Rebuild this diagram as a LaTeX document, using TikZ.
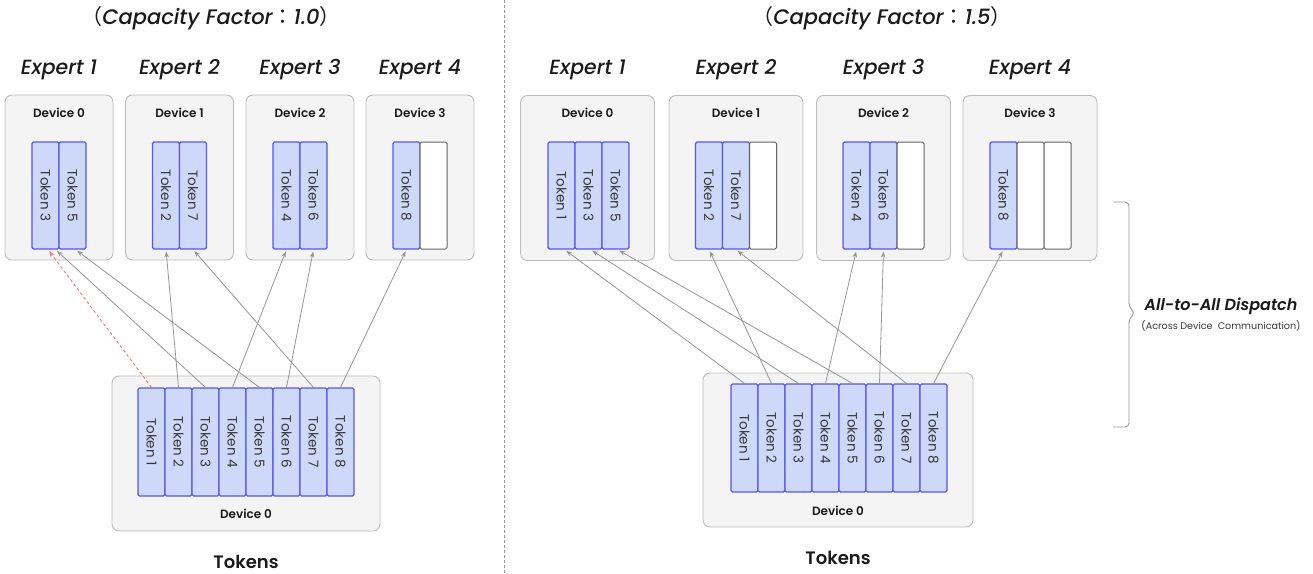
\documentclass[tikz,border=0pt]{standalone}
\usepackage{fontspec}
\setmainfont{Poppins}
\newfontfamily\pmed{Poppins}[UprightFont={* Medium},ItalicFont={* Medium Italic},BoldFont={* SemiBold},BoldItalicFont={* SemiBold Italic}]
\newfontfamily\plight{Poppins}[UprightFont={* Light}]
\newfontfamily\cjkf{Noto Sans CJK TC}
\usetikzlibrary{arrows.meta}

\definecolor{devfill}{RGB}{244,244,244}
\definecolor{devline}{RGB}{188,188,188}
\definecolor{tokfill}{RGB}{206,216,248}
\definecolor{tokline}{RGB}{88,88,222}
\definecolor{slotline}{RGB}{100,100,100}
\definecolor{arrgray}{RGB}{150,150,150}
\definecolor{redarr}{RGB}{240,120,120}
\definecolor{ink}{RGB}{26,26,26}
\definecolor{softink}{RGB}{55,55,55}

\tikzset{
  devbox/.style={draw=devline, fill=devfill, rounded corners=7pt, line width=0.9pt, inner sep=0pt},
  devlabel/.style={font=\pmed\bfseries\fontsize{12}{14}\selectfont, text=ink},
  expert/.style={font=\pmed\itshape\fontsize{20.5}{24}\selectfont, text=ink},
  heading/.style={font=\pmed\fontsize{21}{25}\selectfont, text=ink},
  caption/.style={font=\pmed\bfseries\fontsize{18}{22}\selectfont, text=ink},
  tokbox/.style={draw=tokline, fill=tokfill, rounded corners=1.5pt, line width=1.1pt,
    minimum width=27pt, minimum height=107pt, inner sep=0pt,
    font=\fontsize{13.5}{14}\selectfont, text=softink},
  slotbox/.style={draw=slotline, fill=white, rounded corners=1.5pt, line width=1pt,
    minimum width=27pt, minimum height=107pt, inner sep=0pt},
  flow/.style={draw=arrgray, line width=0.8pt, -{Stealth[length=6pt,width=4.5pt]}, shorten >=2pt},
  redflow/.style={draw=redarr, line width=0.9pt, dash pattern=on 3pt off 2.5pt,
    -{Stealth[length=6pt,width=4.5pt]}, shorten >=2pt},
  divider/.style={draw=arrgray, line width=0.8pt, dash pattern=on 2.5pt off 2.5pt},
  bracepen/.style={draw=arrgray, line width=0.9pt, rounded corners=4pt},
}

\newcommand{\tk}[1]{\rotatebox{-90}{Token #1}}

\begin{document}
\begin{tikzpicture}[x=1pt,y=-1pt]
  \fill[white] (0,0) rectangle (1313,573);
  \useasboundingbox (0,0) rectangle (1313,573);

  % panel divider
  \coordinate (divtop) at (504,0);
  \coordinate (divbot) at (504,573);
  \draw[divider] (divtop) -- (divbot);

  % ---------------- left panel: capacity factor 1.0 ----------------
  \node[heading] (Lhead) at (211,18) {{\cjkf （}{\itshape Capacity Factor}{\cjkf ：}{\itshape 1.0}{\cjkf ）}};

  \foreach \i/\x/\d in {1/59/0, 2/179.5/1, 3/300/2, 4/420/3} {
    \node[expert] (LE\i) at (\x,70) {Expert \i};
    \node[devbox, minimum width=108pt, minimum height=165pt] (LD\i) at (\x,177.5) {};
    \node[devlabel] (LDl\i) at (\x,113) {Device \d};
  }

  \node[tokbox] (LS1a) at (45.5,195.5) {\tk{3}};
  \node[tokbox] (LS1b) at (72.5,195.5) {\tk{5}};
  \node[tokbox] (LS2a) at (166,195.5) {\tk{2}};
  \node[tokbox] (LS2b) at (193,195.5) {\tk{7}};
  \node[tokbox] (LS3a) at (286.5,195.5) {\tk{4}};
  \node[tokbox] (LS3b) at (313.5,195.5) {\tk{6}};
  \node[tokbox] (LS4a) at (406.5,195.5) {\tk{8}};
  \node[slotbox] (LS4b) at (433.5,195.5) {};

  \node[devbox, minimum width=268pt, minimum height=155pt] (LB) at (246,453.5) {};
  \foreach \k in {1,...,8}
    \node[tokbox, minimum height=108pt] (LT\k) at ({151.5+27*(\k-1)},442) {\tk{\k}};
  \node[devlabel] (LBl) at (246,514) {Device 0};
  \node[caption] (Lcap) at (246,562) {Tokens};

  \draw[redflow] (LT1.north) -- ([xshift=2.5pt]LS1a.south);
  \draw[flow] (LT3.north) -- ([xshift=10pt]LS1a.south);
  \draw[flow] (LT5.north) -- ([xshift=3pt]LS1b.south);
  \draw[flow] (LT2.north) -- (LS2a.south);
  \draw[flow] (LT7.north) -- (LS2b.south);
  \draw[flow] (LT4.north) -- (LS3a.south);
  \draw[flow] (LT6.north) -- (LS3b.south);
  \draw[flow] (LT8.north) -- (LS4a.south);

  % ---------------- right panel: capacity factor 1.5 ----------------
  \node[heading] (Rhead) at (882,18) {{\cjkf （}{\itshape Capacity Factor}{\cjkf ：}{\itshape 1.5}{\cjkf ）}};

  \foreach \i/\x/\d in {1/587.5/0, 2/736/1, 3/883.5/2, 4/1030/3} {
    \node[expert] (RE\i) at (\x,70) {Expert \i};
    \node[devbox, minimum width=134pt, minimum height=165pt] (RD\i) at (\x,178) {};
    \node[devlabel] (RDl\i) at (\x,113) {Device \d};
  }

  \node[tokbox] (RS1a) at (561.5,195.5) {\tk{1}};
  \node[tokbox] (RS1b) at (588.5,195.5) {\tk{3}};
  \node[tokbox] (RS1c) at (615.5,195.5) {\tk{5}};
  \node[tokbox] (RS2a) at (709,195.5) {\tk{2}};
  \node[tokbox] (RS2b) at (736,195.5) {\tk{7}};
  \node[slotbox] (RS2c) at (763,195.5) {};
  \node[tokbox] (RS3a) at (856.5,195.5) {\tk{4}};
  \node[tokbox] (RS3b) at (883.5,195.5) {\tk{6}};
  \node[slotbox] (RS3c) at (910.5,195.5) {};
  \node[tokbox] (RS4a) at (1003.5,195.5) {\tk{8}};
  \node[slotbox] (RS4b) at (1030.5,195.5) {};
  \node[slotbox] (RS4c) at (1057.5,195.5) {};

  \node[devbox, minimum width=270pt, minimum height=154pt] (RB) at (838,450) {};
  \foreach \k in {1,...,8}
    \node[tokbox, minimum height=108pt] (RT\k) at ({744.5+27*(\k-1)},438) {\tk{\k}};
  \node[devlabel] (RBl) at (838,511) {Device 0};
  \node[caption] (Rcap) at (838,558) {Tokens};

  \draw[flow] (RT1.north) -- ([xshift=3pt]RS1a.south);
  \draw[flow] (RT3.north) -- ([xshift=2pt]RS1b.south);
  \draw[flow] (RT5.north) -- ([xshift=2pt]RS1c.south);
  \draw[flow] (RT2.north) -- (RS2a.south);
  \draw[flow] (RT7.north) -- (RS2b.south);
  \draw[flow] (RT4.north) -- (RS3a.south);
  \draw[flow] (RT6.north) -- (RS3b.south);
  \draw[flow] (RT8.north) -- (RS4a.south);

  % dispatch brace and its label
  \draw[bracepen] (1113,202) -- (1129,202) -- (1129,307) -- (1135,313)
    -- (1129,319) -- (1129,427) -- (1113,427);
  \node[font=\pmed\bfseries\itshape\fontsize{16}{19}\selectfont, text=ink] (disp) at (1221,306) {All-to-All Dispatch};
  \node[font=\fontsize{9.6}{11}\selectfont, text=softink] (dispsub) at (1221,326) {(Across Device~ Communication)};
\end{tikzpicture}
\end{document}
